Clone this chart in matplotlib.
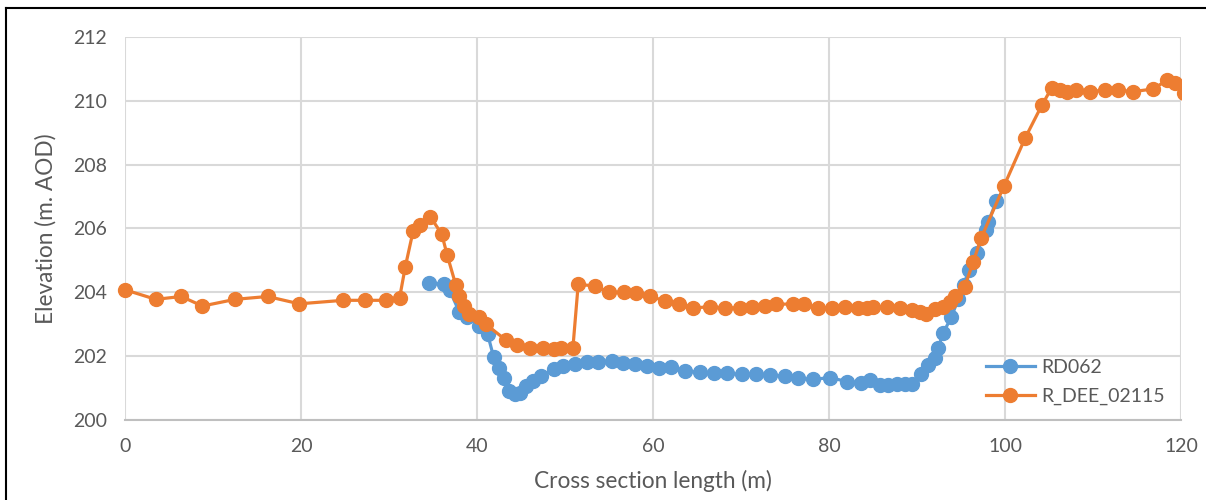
import matplotlib
matplotlib.use('Agg')
import matplotlib.pyplot as plt
from matplotlib.lines import Line2D
from matplotlib.transforms import Bbox, TransformedBbox

# cross section data
rd062_x = [34.5, 36.2, 36.9, 38.0, 38.9, 40.2, 41.2, 41.9, 42.5, 43.1,
           43.6, 44.3, 44.9, 45.6, 46.4, 47.3, 48.7, 49.8, 51.1, 52.5,
           53.8, 55.3, 56.6, 58.0, 59.3, 60.7, 62.1, 63.6, 65.3, 66.9,
           68.4, 70.1, 71.7, 73.3, 75.0, 76.5, 78.2, 80.1, 82.1, 83.6,
           84.7, 85.8, 86.7, 87.7, 88.6, 89.4, 90.5, 91.3, 92.0, 92.4,
           93.0, 93.9, 94.7, 95.3, 95.9, 96.8, 97.8, 98.1, 99.0]
rd062_y = [204.3, 204.25, 204.06, 203.38, 203.22, 202.96, 202.7, 201.96, 201.64, 201.33,
           200.9, 200.8, 200.85, 201.06, 201.22, 201.38, 201.59, 201.7, 201.77, 201.82,
           201.82, 201.85, 201.8, 201.77, 201.7, 201.63, 201.66, 201.53, 201.5, 201.46,
           201.46, 201.43, 201.43, 201.4, 201.38, 201.31, 201.27, 201.33, 201.2, 201.17,
           201.25, 201.09, 201.09, 201.12, 201.14, 201.14, 201.45, 201.72, 201.95, 202.25,
           202.74, 203.22, 203.8, 204.22, 204.71, 205.22, 205.95, 206.2, 206.85]

dee_x = [0, 3.5, 6.4, 8.8, 12.5, 16.2, 19.8, 24.8, 27.3, 29.7,
         31.2, 31.85, 32.75, 33.5, 34.7, 36.0, 36.6, 37.6, 38.0, 38.55,
         39.1, 40.2, 41.0, 43.3, 44.6, 46.0, 47.5, 48.7, 49.6, 50.9,
         51.5, 53.4, 55.0, 56.7, 58.1, 59.7, 61.4, 63.0, 64.6, 66.5,
         68.2, 69.9, 71.3, 72.7, 74.0, 75.9, 77.2, 78.8, 80.3, 81.8,
         83.3, 84.3, 85.0, 86.6, 88.1, 89.4, 90.3, 91.0, 92.0, 93.0,
         93.75, 94.3, 95.4, 96.4, 97.3, 99.9, 102.3, 104.2, 105.3, 106.25,
         107.1, 108.1, 109.7, 111.4, 112.8, 114.6, 116.8, 118.4, 119.3, 120.3]
dee_y = [204.08, 203.78, 203.87, 203.57, 203.78, 203.87, 203.64, 203.75, 203.75, 203.75,
         203.82, 204.8, 205.93, 206.1, 206.37, 205.82, 205.18, 204.22, 203.9, 203.56,
         203.33, 203.22, 203.0, 202.5, 202.35, 202.27, 202.27, 202.22, 202.25, 202.27,
         204.25, 204.2, 204.0, 204.0, 203.97, 203.87, 203.73, 203.65, 203.51, 203.55,
         203.51, 203.51, 203.53, 203.58, 203.62, 203.64, 203.62, 203.51, 203.51, 203.53,
         203.51, 203.51, 203.55, 203.55, 203.51, 203.44, 203.38, 203.33, 203.48, 203.53,
         203.69, 203.87, 204.16, 204.96, 205.71, 207.34, 208.84, 209.87, 210.4, 210.34,
         210.29, 210.34, 210.29, 210.34, 210.34, 210.29, 210.37, 210.64, 210.56, 210.25]

x_ticks = [0, 20, 40, 60, 80, 100, 120]
y_ticks = [200, 202, 204, 206, 208, 210, 212]

plt.rcParams['font.family'] = ['Lato', 'DejaVu Sans']
txt = '#595959'
grid_c = '#d9d9d9'

fig = plt.figure(figsize=(12.06, 5), dpi=100)
ax = fig.add_axes([125 / 1206, 1 - 420 / 500, 1056 / 1206, 383 / 500])

l1, = ax.plot(rd062_x, rd062_y, color='#5B9BD5', lw=2.3, marker='o', ms=10, label='RD062')
l2, = ax.plot(dee_x, dee_y, color='#ED7D31', lw=2.3, marker='o', ms=10, label='R_DEE_02115')
# let markers spill past the left edge but cut at the right edge like the original
box = TransformedBbox(Bbox([[-5, 199], [120, 213]]), ax.transData)
for ln in (l1, l2):
    ln.set_clip_box(box)

ax.set_xlim(0, 120)
ax.set_ylim(200, 212)
ax.set_xticks(x_ticks)
ax.set_yticks(y_ticks)
ax.grid(True, color=grid_c, lw=1.5)
ax.set_axisbelow(True)
for s in ['left', 'right', 'top']:
    ax.spines[s].set_visible(False)
ax.spines['bottom'].set_color('#bfbfbf')
ax.spines['bottom'].set_linewidth(1.5)
ax.tick_params(length=0, labelsize=14, labelcolor=txt)
ax.tick_params(axis='y', pad=13)
ax.tick_params(axis='x', pad=13)

ax.set_xlabel('Cross section length (m)', fontsize=16.3, color=txt, labelpad=11)
ax.set_ylabel('Elevation (m. AOD)', fontsize=16.3, color=txt, labelpad=12)

ax.legend(loc='upper left', bbox_to_anchor=(986 / 1206, 1 - 359 / 500),
          bbox_transform=fig.transFigure, frameon=False, fontsize=14,
          labelcolor=txt, handlelength=2.5, handletextpad=0.35,
          borderpad=0, borderaxespad=0, labelspacing=0.62)

# outer border of the original screenshot
fig.add_artist(Line2D([6 / 1206, 6 / 1206], [0, 1 - 8 / 500], color='black', lw=1.5))
fig.add_artist(Line2D([6 / 1206, 1], [1 - 8 / 500, 1 - 8 / 500], color='black', lw=1.5))

fig.savefig('out.png', dpi=100)
